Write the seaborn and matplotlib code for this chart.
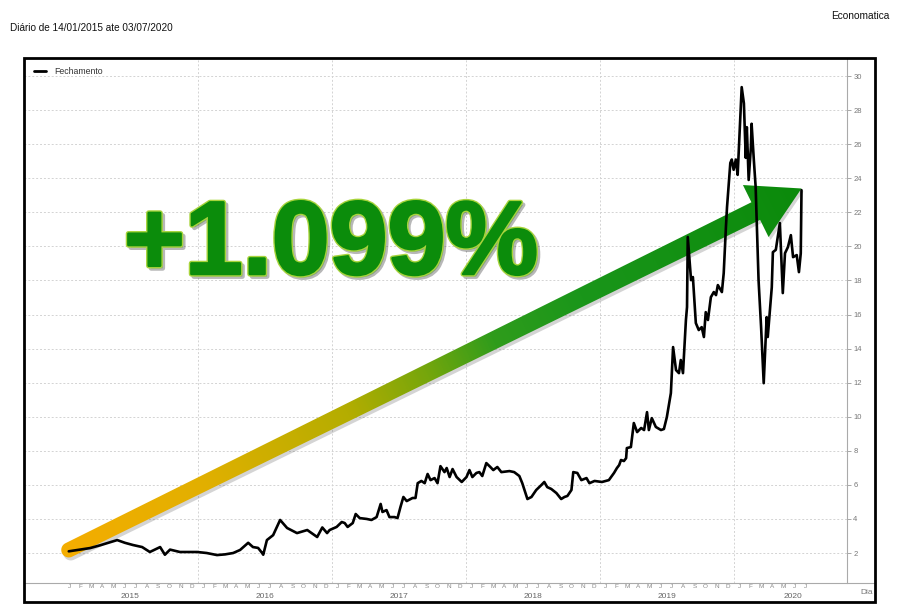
import numpy as np
import pandas as pd
import matplotlib
matplotlib.use("Agg")
import matplotlib.pyplot as plt
import matplotlib.dates as mdates
import matplotlib.transforms as mtransforms
import matplotlib.patheffects as pe
from matplotlib.patches import Polygon, Rectangle
from matplotlib.lines import Line2D
from matplotlib.colors import LinearSegmentedColormap
from matplotlib.ticker import FixedLocator
import seaborn as sns

# ---------------- data ----------------
title_text = "Diário de 14/01/2015 ate 03/07/2020"
source_text = "Economatica"
series_name = "Fechamento"
gain_label = "+1.099%"
axis_unit = "Dia"
month_letters = ["J", "F", "M", "A", "M", "J", "J", "A", "S", "O", "N", "D"]
years = [2015, 2016, 2017, 2018, 2019, 2020]
y_ticks = list(range(2, 31, 2))

dates_2015_2016 = [
    "2015-01-14", "2015-02-13", "2015-03-13", "2015-04-09", "2015-05-26", "2015-06-16",
    "2015-07-08", "2015-08-02", "2015-08-23", "2015-09-20", "2015-10-03", "2015-10-17",
    "2015-11-13", "2015-12-30", "2016-01-25", "2016-02-22", "2016-03-15", "2016-04-06",
    "2016-04-25", "2016-05-17", "2016-05-30", "2016-06-13", "2016-06-24", "2016-06-27",
    "2016-07-07", "2016-07-24", "2016-08-12", "2016-08-31", "2016-09-27", "2016-10-25",
    "2016-11-21", "2016-12-05", "2016-12-18", "2016-12-25",
]
close_2015_2016 = [
    2.10, 2.20, 2.29, 2.45, 2.76, 2.60,
    2.47, 2.35, 2.06, 2.35, 1.90, 2.20,
    2.06, 2.06, 2.00, 1.88, 1.92, 2.00,
    2.18, 2.60, 2.35, 2.30, 2.00, 1.90,
    2.76, 3.05, 3.94, 3.47, 3.17, 3.35,
    2.94, 3.50, 3.17, 3.35,
]
dates_2017_2018 = [
    "2017-01-13", "2017-01-27", "2017-02-04", "2017-02-12", "2017-02-26", "2017-03-06",
    "2017-03-17", "2017-04-05", "2017-04-18", "2017-05-02", "2017-05-13", "2017-05-18",
    "2017-05-29", "2017-06-06", "2017-06-20", "2017-06-28", "2017-07-06", "2017-07-14",
    "2017-07-23", "2017-08-08", "2017-08-16", "2017-08-22", "2017-09-01", "2017-09-10",
    "2017-09-18", "2017-09-26", "2017-10-07", "2017-10-15", "2017-10-23", "2017-11-03",
    "2017-11-09", "2017-11-17", "2017-11-25", "2017-12-06", "2017-12-20",
    "2018-01-02", "2018-01-10", "2018-01-18", "2018-01-29", "2018-02-06", "2018-02-14",
    "2018-02-25", "2018-03-08", "2018-03-16", "2018-03-27", "2018-04-07", "2018-04-29",
    "2018-05-12", "2018-05-26", "2018-06-03", "2018-06-17", "2018-06-28", "2018-07-11",
    "2018-07-25", "2018-08-02", "2018-08-10", "2018-08-21", "2018-09-04", "2018-09-17",
    "2018-09-26", "2018-10-04", "2018-10-15", "2018-10-20", "2018-10-31", "2018-11-11",
    "2018-11-25", "2018-12-03", "2018-12-17",
]
close_2017_2018 = [
    3.53, 3.82, 3.76, 3.53, 3.76, 4.29,
    4.05, 4.00, 3.94, 4.11, 4.88, 4.41,
    4.52, 4.11, 4.11, 4.05, 4.70, 5.29,
    5.05, 5.23, 5.23, 6.10, 6.23, 6.10,
    6.64, 6.28, 6.40, 6.10, 7.10, 6.75,
    6.99, 6.46, 6.93, 6.46, 6.17,
    6.46, 6.87, 6.46, 6.70, 6.75, 6.52,
    7.28, 7.05, 6.87, 7.05, 6.75, 6.81,
    6.75, 6.52, 6.10, 5.17, 5.29, 5.70,
    5.99, 6.17, 5.87, 5.76, 5.52, 5.17,
    5.29, 5.35, 5.70, 6.75, 6.70, 6.28,
    6.40, 6.10, 6.23,
]
dates_2019_2020 = [
    "2019-01-06", "2019-01-25", "2019-02-08", "2019-02-16", "2019-02-22", "2019-02-27",
    "2019-03-07", "2019-03-13", "2019-03-15", "2019-03-26", "2019-04-03", "2019-04-12",
    "2019-04-23", "2019-05-01", "2019-05-09", "2019-05-14", "2019-05-22", "2019-06-02",
    "2019-06-16", "2019-06-24", "2019-07-02", "2019-07-13", "2019-07-19", "2019-07-27",
    "2019-08-04", "2019-08-09", "2019-08-15", "2019-08-23", "2019-08-26", "2019-08-28",
    "2019-09-06", "2019-09-11", "2019-09-19", "2019-09-27", "2019-10-05", "2019-10-11",
    "2019-10-16", "2019-10-22", "2019-10-30", "2019-11-07", "2019-11-13", "2019-11-18",
    "2019-11-29", "2019-12-04", "2019-12-10", "2019-12-13", "2019-12-22", "2019-12-26",
    "2019-12-31", "2020-01-06", "2020-01-11", "2020-01-19", "2020-01-22", "2020-01-28",
    "2020-02-02", "2020-02-05", "2020-02-10", "2020-02-16", "2020-02-18", "2020-02-24",
    "2020-02-29", "2020-03-08", "2020-03-15", "2020-03-22", "2020-03-30", "2020-04-02",
    "2020-04-13", "2020-04-16", "2020-04-24", "2020-05-05", "2020-05-13", "2020-05-19",
    "2020-05-27", "2020-06-04", "2020-06-10", "2020-06-20", "2020-06-26", "2020-07-01",
    "2020-07-03",
]
close_2019_2020 = [
    6.17, 6.28, 6.70, 6.99, 7.16, 7.46,
    7.40, 7.57, 8.16, 8.22, 9.63, 9.10,
    9.34, 9.22, 10.27, 9.22, 9.92, 9.40,
    9.22, 9.28, 9.98, 11.39, 14.09, 12.74,
    12.56, 13.33, 12.56, 15.68, 16.44, 20.55,
    18.02, 18.20, 15.50, 15.09, 15.26, 14.68,
    16.14, 15.68, 17.02, 17.32, 17.14, 17.73,
    17.32, 18.43, 21.13, 22.30, 24.90, 25.10,
    24.50, 25.10, 24.20, 28.00, 29.35, 28.40,
    25.20, 27.00, 23.90, 25.80, 27.20, 25.10,
    23.50, 18.00, 15.20, 11.97, 15.85, 14.68,
    17.60, 19.66, 19.80, 21.37, 17.26, 19.60,
    19.96, 20.66, 19.37, 19.49, 18.49, 19.60,
    23.30,
]

df = pd.DataFrame({
    "date": pd.to_datetime(dates_2015_2016 + dates_2017_2018 + dates_2019_2020),
    "close": close_2015_2016 + close_2017_2018 + close_2019_2020,
})

# ---------------- figure ----------------
sns.set_style("white")
plt.rcParams["font.family"] = ["Liberation Sans", "DejaVu Sans"]

W, H = 900, 614
fig = plt.figure(figsize=(W / 100, H / 100), dpi=100)
fig.patch.set_facecolor("white")

def fx(px):
    return px / W

def fy(py):
    return 1 - py / H

ax_l, ax_r, ax_t, ax_b = 24, 847, 58, 583
ax = fig.add_axes([fx(ax_l), fy(ax_b), (ax_r - ax_l) / W, (ax_b - ax_t) / H])
ax.set_facecolor("white")

sns.lineplot(data=df, x="date", y="close", color="black", linewidth=1.9,
             ax=ax, zorder=6, legend=False)
ax.set_xlabel("")
ax.set_ylabel("")

x0 = mdates.date2num(pd.Timestamp("2014-09-14"))
x1 = mdates.date2num(pd.Timestamp("2020-11-04"))
y0, y1 = 0.24, 31.06
ax.set_xlim(x0, x1)
ax.set_ylim(y0, y1)

# y axis on the right
ax.set_yticks(y_ticks)
ax.yaxis.tick_right()
ax.tick_params(axis="y", length=3, width=0.6, color="#999999", labelsize=5.5,
               labelcolor="#777777", pad=1.5)
ax.yaxis.grid(True, linestyle=(0, (2, 2)), color="#d3d3d3", linewidth=0.7)

# x axis: year separators (major) and month separators (minor)
year_starts = [mdates.date2num(pd.Timestamp(f"{y}-01-01")) for y in years[1:]]
ax.xaxis.set_major_locator(FixedLocator(year_starts))
month_bounds = []
for y in years:
    last_m = 7 if y == years[-1] else 12
    for m in range(2, last_m + 1):
        month_bounds.append(mdates.date2num(pd.Timestamp(year=y, month=m, day=1)))
ax.xaxis.set_minor_locator(FixedLocator(month_bounds))
ax.tick_params(axis="x", which="major", length=13.5, width=0.8, color="#aaaaaa",
               labelbottom=False)
ax.tick_params(axis="x", which="minor", length=3.6, width=0.5, color="#b0b0b0",
               labelbottom=False)
ax.xaxis.grid(True, which="major", linestyle=(0, (2, 2)), color="#d3d3d3", linewidth=0.7)

for s in ["left", "top", "bottom"]:
    ax.spines[s].set_visible(False)
ax.spines["right"].set_color("#aaaaaa")
ax.spines["right"].set_linewidth(0.8)

blend = mtransforms.blended_transform_factory(ax.transData, ax.transAxes)
ax_h = ax_b - ax_t
for y in years:
    last_m = 7 if y == years[-1] else 12
    for m in range(1, last_m + 1):
        xm = mdates.date2num(pd.Timestamp(year=y, month=m, day=15))
        ax.text(xm, -(586.5 - ax_b) / ax_h, month_letters[m - 1], transform=blend,
                ha="center", va="center", fontsize=4.6, color="#8a8a8a", clip_on=False)
    xc = mdates.date2num(pd.Timestamp(year=y, month=7, day=1)) if y != years[-1] \
        else mdates.date2num(pd.Timestamp(year=y, month=6, day=10))
    ax.text(xc, -(597 - ax_b) / ax_h, str(y), transform=blend, ha="center",
            va="center", fontsize=6, color="#666666", clip_on=False)

# legend
leg = ax.legend(handles=[Line2D([], [], color="black", lw=2)], labels=[series_name],
                loc="upper left", bbox_to_anchor=(0.006, 0.992), frameon=False,
                fontsize=6.3, handlelength=1.4, handletextpad=0.9, borderaxespad=0.2)
for t in leg.get_texts():
    t.set_color("#333333")

# ---------------- gradient arrow from first to last close ----------------
T = ax.transData
p0 = np.array(T.transform((mdates.date2num(df["date"].iloc[0]), df["close"].iloc[0] + 0.08)))
p1 = np.array(T.transform((mdates.date2num(df["date"].iloc[-1]), df["close"].iloc[-1] + 0.1)))
vec = p1 - p0
L = np.hypot(*vec)
u = vec / L
n = np.array([-u[1], u[0]])
head_len, head_half = 51, 29
w0, w1 = 7.5, 9.8
base = p1 - u * head_len
pts = [p0 + n * w0, base + n * w1, base + n * head_half, p1,
       base - n * head_half, base - n * w1]
for phi in np.linspace(0, np.pi, 30):
    pts.append(p0 + w0 * (-n * np.cos(phi) - u * np.sin(phi)))
pts = np.array(pts)

inv = T.inverted()
shadow_pts = inv.transform(pts + np.array([2.0, -3.0]))
ax.add_patch(Polygon(shadow_pts, closed=True, transform=T, facecolor="#555555",
                     edgecolor="none", alpha=0.25, zorder=3))
arrow_clip = Polygon(inv.transform(pts), closed=True, transform=T, facecolor="none",
                     edgecolor="none", zorder=4)
ax.add_patch(arrow_clip)

cmap = LinearSegmentedColormap.from_list("arrow", [
    (0.0, "#f4ad00"), (0.18, "#e2b000"), (0.38, "#b4ad00"), (0.49, "#74a60c"),
    (0.58, "#2f9c1c"), (0.7, "#1a961a"), (1.0, "#0b8a0b")])
bb = ax.bbox
nx, ny = int(bb.width), int(bb.height)
X = bb.x0 + np.arange(nx) + 0.5
Y = bb.y0 + np.arange(ny) + 0.5
XX, YY = np.meshgrid(X, Y)
tt = np.clip(((XX - p0[0]) * u[0] + (YY - p0[1]) * u[1]) / L, 0, 1)
img = ax.imshow(cmap(tt), extent=(x0, x1, y0, y1), origin="lower", aspect="auto",
                zorder=4, interpolation="bilinear")
img.set_clip_path(arrow_clip)
ax.set_xlim(x0, x1)
ax.set_ylim(y0, y1)

# ---------------- texts and frame ----------------
fig.text(fx(124), fy(274), gain_label, fontsize=75, fontweight="bold", color="#0b8c0b",
         ha="left", va="baseline", zorder=8,
         path_effects=[pe.Stroke(linewidth=3.5, foreground="#333333", alpha=0.35, offset=(1.8, -1.8)),
                       pe.Stroke(linewidth=3.8, foreground="#a8d43c"),
                       pe.Stroke(linewidth=1.8, foreground="#0b8c0b"),
                       pe.Normal()])

fig.text(fx(10), fy(28), title_text, fontsize=7.2, ha="left", va="center", color="#111111")
fig.text(fx(890), fy(16), source_text, fontsize=7.3, ha="right", va="center", color="#111111")
fig.text(fx(867), fy(592), axis_unit, fontsize=6, ha="center", va="center", color="#777777")

fig.add_artist(Line2D([fx(24), fx(874)], [fy(583), fy(583)], color="#aaaaaa", lw=0.8,
                      transform=fig.transFigure))
fig.add_artist(Rectangle((fx(24), fy(602)), (875 - 24) / W, (602 - 58) / H,
                         transform=fig.transFigure, fill=False, lw=2, ec="black", zorder=10))

fig.savefig("out.png", dpi=100, facecolor="white")
